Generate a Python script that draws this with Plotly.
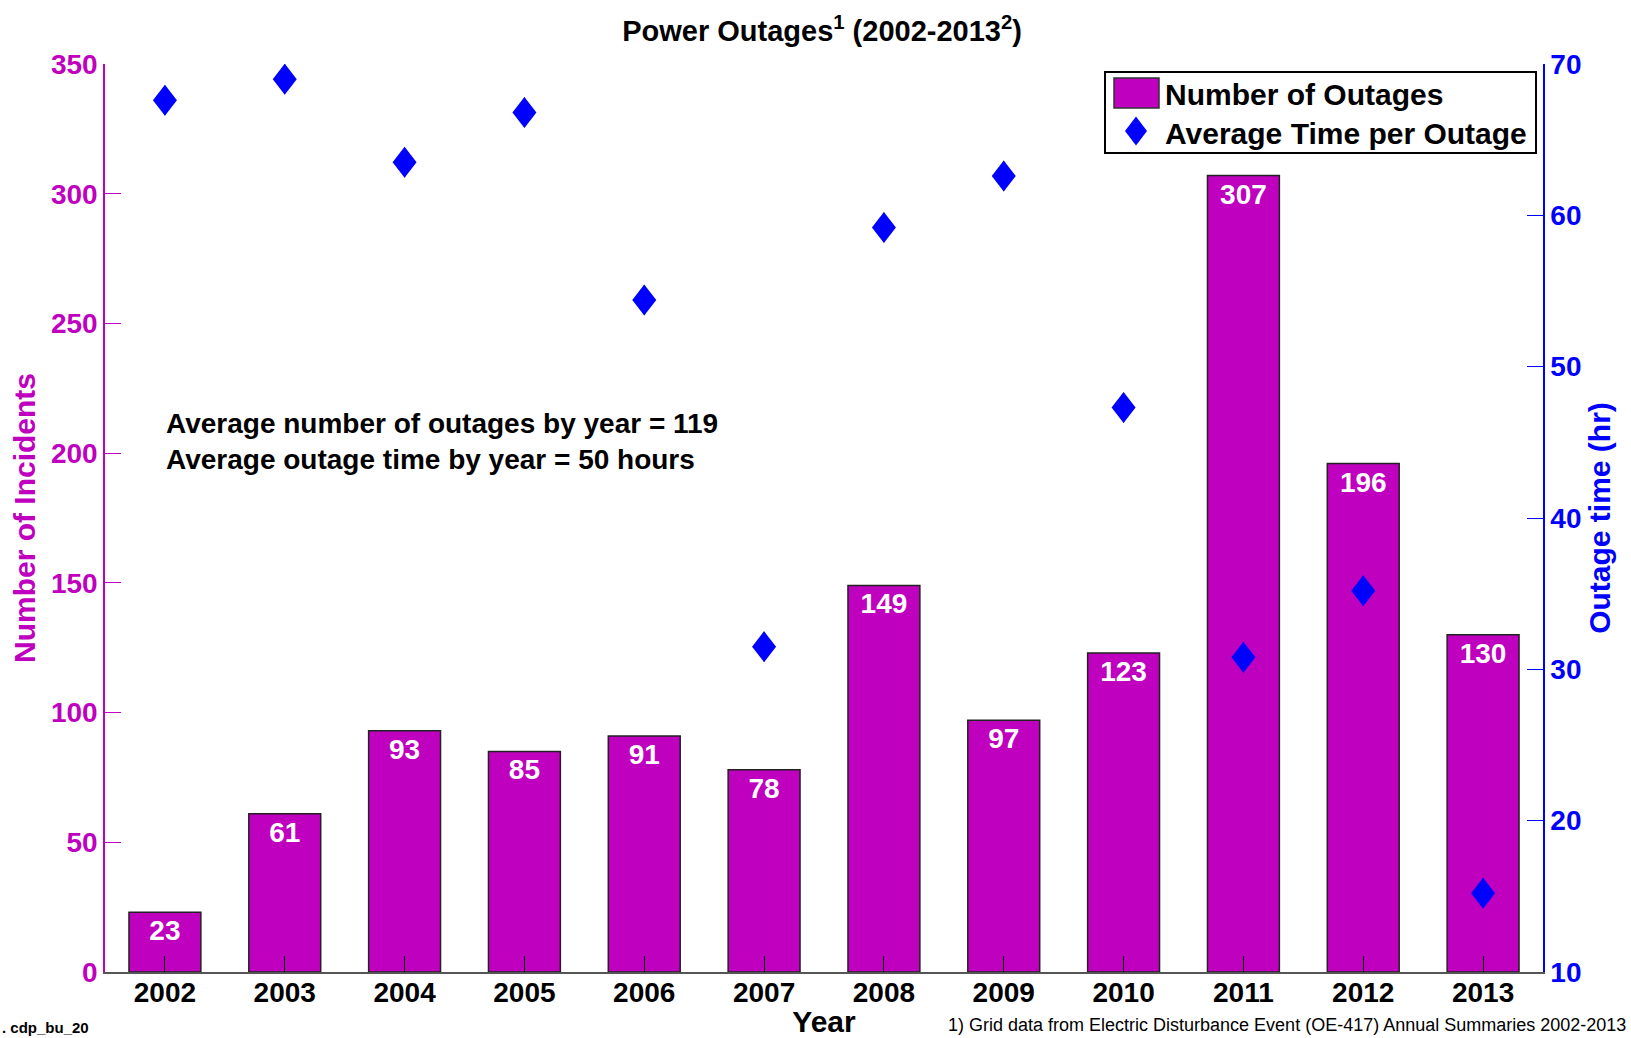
import plotly.graph_objects as go

years = [2002, 2003, 2004, 2005, 2006, 2007, 2008, 2009, 2010, 2011, 2012, 2013]
outages = [23, 61, 93, 85, 91, 78, 149, 97, 123, 307, 196, 130]
avg_time = [67.6, 69.0, 63.5, 66.8, 54.4, 31.5, 59.2, 62.6, 47.3, 30.8, 35.2, 15.2]
left_ticks = [0, 50, 100, 150, 200, 250, 300, 350]
right_ticks = [10, 20, 30, 40, 50, 60, 70]

MAG = "#BF00BF"
BLUE = "#0000FF"
FONT = "Liberation Sans, Arial, sans-serif"

W, H = 1631, 1038
L, R, T, B = 105, 88, 64, 66
PW, PH = W - L - R, H - T - B


def px(x):
    return (x - L) / PW


def py(y):
    return (H - B - y) / PH


fig = go.Figure()
fig.add_trace(go.Bar(
    x=years, y=outages, name="Number of Outages",
    marker=dict(color=MAG, line=dict(color="#222222", width=1.5)),
    width=0.6,
    text=[f"<b>{v}</b>" for v in outages], textposition="inside",
    insidetextanchor="end", textangle=0,
    textfont=dict(color="white", size=28, family=FONT),
    yaxis="y", showlegend=False,
))
fig.add_trace(go.Scatter(
    x=years, y=avg_time, name="Average Time per Outage", mode="markers",
    marker=dict(symbol="diamond-tall", color=BLUE, size=22, line=dict(width=0)),
    yaxis="y2", showlegend=False,
))
# wider diamond outline anchored on each data point (pixel-sized)
for xv, yv in zip(years, avg_time):
    fig.add_shape(type="path", xref="x", yref="y2",
                  xsizemode="pixel", ysizemode="pixel", xanchor=xv, yanchor=yv,
                  path="M 0,15.5 L 12,0 L 0,-15.5 L -12,0 Z",
                  line=dict(width=0), fillcolor=BLUE, layer="above")

fig.update_layout(
    width=W, height=H,
    margin=dict(l=L, r=R, t=T, b=B, autoexpand=False),
    plot_bgcolor="white", paper_bgcolor="white",
    font=dict(family=FONT, color="black"),
    title=dict(text="<b>Power Outages<sup>1</sup> (2002-2013<sup>2</sup>)</b>",
               x=0.504, xanchor="center", y=0.970, yanchor="middle",
               font=dict(size=29, color="black", family=FONT)),
    xaxis=dict(range=[2001.5, 2013.5], tickvals=years,
               ticktext=[f"<b>{y}</b>" for y in years],
               tickfont=dict(size=28, color="black", family=FONT),
               ticks="inside", ticklen=16, tickcolor="black", tickwidth=1,
               ticklabelstandoff=-5,
               showline=True, linecolor="#555555", linewidth=1.5,
               showgrid=False, zeroline=False, automargin=False,
               title=dict(text="<b>Year</b>", font=dict(size=30, color="black"), standoff=0)),
    yaxis=dict(range=[0, 350], tickvals=left_ticks,
               ticktext=[f"<b>{v}</b>" for v in left_ticks],
               tickfont=dict(size=28, color=MAG, family=FONT),
               ticks="inside", ticklen=16, tickcolor=MAG, tickwidth=1,
               showline=True, linecolor=MAG, linewidth=1.5,
               showgrid=False, zeroline=False, automargin=False,
               title=dict(text="<b>Number of Incidents</b>", font=dict(size=30, color=MAG), standoff=6)),
    yaxis2=dict(range=[10, 70], tickvals=right_ticks,
                ticktext=[f"<b>{v}</b>" for v in right_ticks],
                tickfont=dict(size=28, color=BLUE, family=FONT),
                overlaying="y", side="right",
                ticks="inside", ticklen=16, tickcolor=BLUE, tickwidth=1,
                showline=True, linecolor=BLUE, linewidth=1.5,
                showgrid=False, zeroline=False, automargin=False,
                title=dict(text="<b>Outage time (hr)</b>", font=dict(size=30, color=BLUE), standoff=8)),
    showlegend=False,
    bargap=0.4,
)

# Manual legend (box, swatches, labels)
fig.add_shape(type="rect", xref="paper", yref="paper",
              x0=px(1105), x1=px(1536), y0=py(153), y1=py(72),
              line=dict(color="black", width=2), fillcolor="white", layer="above")
fig.add_shape(type="rect", xref="paper", yref="paper",
              x0=px(1114), x1=px(1159), y0=py(108), y1=py(78),
              line=dict(color="#333333", width=1.5), fillcolor=MAG, layer="above")
dx, dy = 11, 14.5
cx, cy = 1136, 131
fig.add_shape(type="path", xref="paper", yref="paper",
              path=(f"M {px(cx)},{py(cy - dy)} L {px(cx + dx)},{py(cy)} "
                    f"L {px(cx)},{py(cy + dy)} L {px(cx - dx)},{py(cy)} Z"),
              line=dict(width=0), fillcolor=BLUE, layer="above")
fig.add_annotation(xref="paper", yref="paper", x=px(1163), y=py(94),
                   xanchor="left", yanchor="middle", showarrow=False,
                   text="<b>Number of Outages</b>",
                   font=dict(size=30, color="black", family=FONT))
fig.add_annotation(xref="paper", yref="paper", x=px(1163), y=py(133),
                   xanchor="left", yanchor="middle", showarrow=False,
                   text="<b>Average Time per Outage</b>",
                   font=dict(size=30, color="black", family=FONT))

fig.add_annotation(
    xref="paper", yref="paper", x=px(164), y=py(441.5), xanchor="left", yanchor="middle",
    text="<b>Average number of outages by year = 119<br>Average outage time by year = 50 hours</b>",
    showarrow=False, align="left", font=dict(size=28, color="black", family=FONT),
)
fig.add_annotation(
    xref="paper", yref="paper", x=px(1628), y=py(1025), xanchor="right", yanchor="middle",
    text="1) Grid data from Electric Disturbance Event (OE-417) Annual Summaries 2002-2013",
    showarrow=False, font=dict(size=18, color="black", family="Liberation Sans Narrow, Arial Narrow, sans-serif"),
)
fig.add_annotation(
    xref="paper", yref="paper", x=px(0), y=py(1027), xanchor="left", yanchor="middle",
    text="<b>. cdp_bu_20</b>",
    showarrow=False, font=dict(size=15, color="black", family=FONT),
)

fig.write_html("out.html", config={"displayModeBar": False},
               post_script="document.body.style.margin='0';")
